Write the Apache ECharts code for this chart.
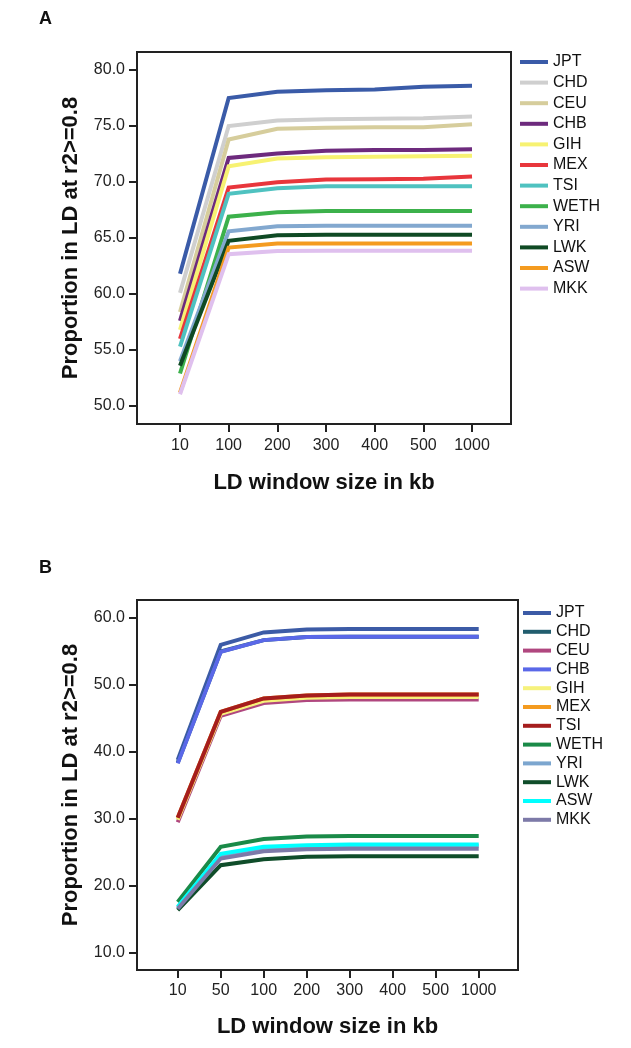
<!DOCTYPE html>
<html>
<head>
<meta charset="utf-8">
<script src="https://cdn.jsdelivr.net/npm/echarts@6/dist/echarts.min.js"></script>
<style>
html,body{margin:0;padding:0;background:#fff;}
#chart{width:631px;height:1048px;}
</style>
</head>
<body>
<div id="chart"></div>
<script>
// ---------- Panel A data ----------
const catsA = ['10','100','200','300','400','500','1000'];
const popsA = ['JPT','CHD','CEU','CHB','GIH','MEX','TSI','WETH','YRI','LWK','ASW','MKK'];
const colorsA = ['#3a5ba8','#cfcfcf','#d6cd9c','#6d2a7d','#f7f272','#e8363c','#4fc2c0','#3cb14b','#82a8cf','#0f4a24','#f49b20','#dfc0ee'];
const A_JPT  = [61.8, 77.5, 78.05, 78.2, 78.25, 78.5, 78.6];
const A_CHD  = [60.1, 75.0, 75.5, 75.6, 75.65, 75.7, 75.85];
const A_CEU  = [58.4, 73.8, 74.75, 74.85, 74.88, 74.88, 75.15];
const A_CHB  = [57.6, 72.15, 72.55, 72.8, 72.85, 72.85, 72.92];
const A_GIH  = [56.8, 71.4, 72.1, 72.2, 72.25, 72.3, 72.35];
const A_MEX  = [56.0, 69.5, 69.97, 70.22, 70.25, 70.28, 70.5];
const A_TSI  = [55.3, 68.95, 69.45, 69.62, 69.62, 69.62, 69.62];
const A_WETH = [52.9, 66.9, 67.3, 67.42, 67.42, 67.42, 67.42];
const A_YRI  = [54.0, 65.6, 66.05, 66.1, 66.1, 66.1, 66.1];
const A_LWK  = [53.6, 64.75, 65.25, 65.3, 65.3, 65.3, 65.3];
const A_ASW  = [51.2, 64.15, 64.5, 64.5, 64.5, 64.5, 64.5];
const A_MKK  = [51.05, 63.55, 63.85, 63.87, 63.87, 63.87, 63.87];
const yTicksA = [50, 55, 60, 65, 70, 75, 80];

// ---------- Panel B data ----------
const catsB = ['10','50','100','200','300','400','500','1000'];
const popsB = ['JPT','CHD','CEU','CHB','GIH','MEX','TSI','WETH','YRI','LWK','ASW','MKK'];
const colorsB = ['#3c5ba6','#215d6e','#b0477f','#5a68e8','#f6f27c','#f49b20','#a51d1d','#1a8a48','#7ca6cf','#0f4d2a','#00ffff','#7d7aa8'];
const B_JPT  = [38.8, 56.0, 57.85, 58.3, 58.35, 58.35, 58.35, 58.35];
const B_CHD  = [38.4, 55.0, 56.7, 57.15, 57.2, 57.2, 57.2, 57.2];
const B_CEU  = [29.5, 45.4, 47.3, 47.75, 47.85, 47.85, 47.85, 47.85];
const B_CHB  = [38.3, 54.95, 56.7, 57.15, 57.2, 57.2, 57.2, 57.2];
const B_GIH  = [29.9, 45.7, 47.65, 48.1, 48.2, 48.2, 48.2, 48.2];
const B_MEX  = [30.2, 46.0, 48.0, 48.45, 48.6, 48.6, 48.6, 48.6];
const B_TSI  = [30.2, 46.0, 48.0, 48.45, 48.6, 48.6, 48.6, 48.6];
const B_WETH = [17.6, 25.85, 27.0, 27.4, 27.45, 27.45, 27.45, 27.45];
const B_YRI  = [16.8, 24.6, 25.7, 25.9, 26.0, 26.0, 26.0, 26.0];
const B_LWK  = [16.4, 23.1, 24.0, 24.35, 24.45, 24.45, 24.45, 24.45];
const B_ASW  = [16.9, 24.8, 25.85, 26.1, 26.2, 26.2, 26.2, 26.2];
const B_MKK  = [16.6, 24.1, 25.2, 25.5, 25.55, 25.55, 25.55, 25.55];
const yTicksB = [10, 20, 30, 40, 50, 60];

const valuesA = [A_JPT,A_CHD,A_CEU,A_CHB,A_GIH,A_MEX,A_TSI,A_WETH,A_YRI,A_LWK,A_ASW,A_MKK];
const valuesB = [B_JPT,B_CHD,B_CEU,B_CHB,B_GIH,B_MEX,B_TSI,B_WETH,B_YRI,B_LWK,B_ASW,B_MKK];

const FONT = '"Liberation Sans", Arial, Helvetica, sans-serif';
const AX = '#222';

function mkSeries(prefix, pops, colors, values, idx) {
  return pops.map((p, i) => ({
    name: prefix + p,
    type: 'line',
    xAxisIndex: idx, yAxisIndex: idx,
    data: values[i].map((v, j) => [j, v]),
    symbol: 'none',
    color: colors[i],
    lineStyle: { width: 4, color: colors[i], join: 'miter' },
    emphasis: { disabled: true },
    animation: false
  }));
}

function xAxis(idx, cats, min, max, margin, gap) {
  const ticks = cats.map((c, i) => i);
  return {
    type: 'value', gridIndex: idx, min: min, max: max,
    name: 'LD window size in kb', nameLocation: 'middle', nameGap: gap,
    nameTextStyle: { fontFamily: FONT, fontSize: 22, fontWeight: 'bold', color: '#111' },
    axisLine: { show: true, onZero: false, lineStyle: { color: AX, width: 2 } },
    axisTick: { show: true, customValues: ticks, length: 8, lineStyle: { color: AX, width: 2 } },
    axisLabel: { customValues: ticks, formatter: v => cats[Math.round(v)], margin: margin,
                 fontFamily: FONT, fontSize: 16, color: '#222' },
    splitLine: { show: false }
  };
}
function yAxis(idx, ticks, min, max) {
  return {
    type: 'value', gridIndex: idx, min: min, max: max,
    name: 'Proportion in LD at r2>=0.8', nameLocation: 'middle', nameGap: 55,
    nameTextStyle: { fontFamily: FONT, fontSize: 22, fontWeight: 'bold', color: '#111' },
    axisLine: { show: true, onZero: false, lineStyle: { color: AX, width: 2 } },
    axisTick: { show: true, customValues: ticks, length: 8, lineStyle: { color: AX, width: 2 } },
    axisLabel: { customValues: ticks, formatter: v => Number(v).toFixed(1), margin: 12,
                 fontFamily: FONT, fontSize: 16, color: '#222' },
    splitLine: { show: false }
  };
}
function legend(prefix, pops, left, top, gap) {
  return {
    orient: 'vertical', left: left, top: top, padding: 0,
    data: pops.map(p => prefix + p),
    formatter: n => n.slice(prefix.length),
    icon: 'rect', itemWidth: 28, itemHeight: 4, itemGap: gap,
    selectedMode: false,
    textStyle: { fontFamily: FONT, fontSize: 16, color: '#111', lineHeight: 16, padding: [0,0,0,0] }
  };
}

const chart = echarts.init(document.getElementById('chart'), null, { renderer: 'canvas' });
chart.setOption({
  backgroundColor: '#fff',
  animation: false,
  grid: [
    { left: 137, top: 52, width: 374, height: 372, show: true, borderColor: AX, borderWidth: 2, backgroundColor: 'transparent' },
    { left: 137, top: 600, width: 381, height: 370, show: true, borderColor: AX, borderWidth: 2, backgroundColor: 'transparent' }
  ],
  xAxis: [
    xAxis(0, catsA, -0.8836, 6.801, 14, 48),
    xAxis(1, catsB, -0.947, 7.914, 13, 46)
  ],
  yAxis: [
    yAxis(0, yTicksA, 48.393, 81.607),
    yAxis(1, yTicksB, 7.46, 62.69)
  ],
  legend: [
    legend('A:', popsA, 520, 54, 4.6),
    legend('B:', popsB, 523, 605, 2.8)
  ],
  graphic: [
    { type: 'text', left: 39, top: 10, style: { text: 'A', font: 'bold 18px ' + FONT, fill: '#111' } },
    { type: 'text', left: 39, top: 559, style: { text: 'B', font: 'bold 18px ' + FONT, fill: '#111' } }
  ],
  series: [].concat(
    mkSeries('A:', popsA, colorsA, valuesA, 0),
    mkSeries('B:', popsB, colorsB, valuesB, 1)
  )
});
</script>
</body>
</html>
